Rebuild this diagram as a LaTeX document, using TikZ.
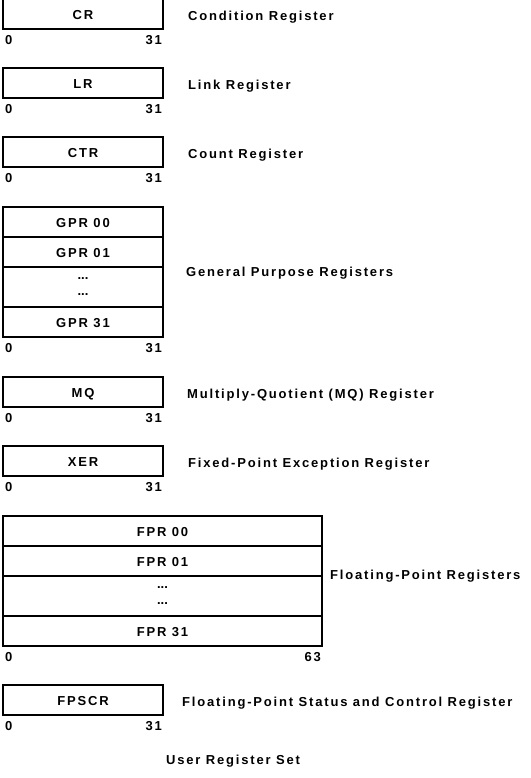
\documentclass[tikz,border=0pt]{standalone}
\usepackage{fontspec}
\setmainfont{Liberation Sans}[LetterSpace=14]
\usetikzlibrary{positioning}

\tikzset{
    reg/.style={draw, line width=1.4pt, minimum width=160pt, minimum height=30pt,
        inner sep=0pt, outer sep=0pt, anchor=north west, text height=11pt, text depth=0pt},
    regw/.style={reg, minimum width=319pt},
    dotsrow/.style={minimum height=40pt, align=center, text height=,
        font=\fontsize{13}{16}\selectfont\bfseries\addfontfeature{LetterSpace=0}},
    bits/.style={inner sep=0pt, text depth=0pt},
    desc/.style={inner sep=0pt, text depth=0pt, anchor=west}
}

\begin{document}
\begin{tikzpicture}[x=1pt, y=-1pt, font=\fontsize{13}{16}\selectfont\bfseries]
        \useasboundingbox (0,0) rectangle (530,778);
        % Registros de 32 bits
        \foreach \n/\t/\y/\dx/\d in {CR/CR/-1/188/Condition Register,
            LR/LR/68/188/Link Register,
            CTR/CTR/137/188/Count Register,
            MQ/MQ/377/187/Multiply-Quotient (MQ) Register,
            XER/XER/446/188/Fixed-Point Exception Register,
            FPSCR/FPSCR/685/182/Floating-Point Status and Control Register}{
            \node[reg] (\n) at (3,\y) {\t};
            \node[bits, anchor=north west, xshift=2pt, yshift=-6.5pt] (\n-lo) at (\n.south west) {0};
            \node[bits, anchor=north east, xshift=-1pt, yshift=-6.5pt] (\n-hi) at (\n.south east) {31};
            \node[desc] (\n-d) at (\dx,\y+17) {\d};
        }
        % GPR
        \node[reg] (GPR00) at (3,207) {GPR 00};
        \node[reg, below=0pt of GPR00] (GPR01) {GPR 01};
        \node[reg, dotsrow, below=0pt of GPR01] (GPRdots) {...\\...};
        \node[reg, below=0pt of GPRdots] (GPR31) {GPR 31};
        \node[bits, anchor=north west, xshift=2pt, yshift=-6.5pt] (GPR-lo) at (GPR31.south west) {0};
        \node[bits, anchor=north east, xshift=-1pt, yshift=-6.5pt] (GPR-hi) at (GPR31.south east) {31};
        \node[desc] (GPR-d) at (186,272) {General Purpose Registers};
        % FPR
        \node[regw] (FPR00) at (3,516) {FPR 00};
        \node[regw, below=0pt of FPR00] (FPR01) {FPR 01};
        \node[regw, dotsrow, below=0pt of FPR01] (FPRdots) {...\\...};
        \node[regw, below=0pt of FPRdots] (FPR31) {FPR 31};
        \node[bits, anchor=north west, xshift=2pt, yshift=-6.5pt] (FPR-lo) at (FPR31.south west) {0};
        \node[bits, anchor=north east, xshift=-1pt, yshift=-6.5pt] (FPR-hi) at (FPR31.south east) {63};
        \node[desc] (FPR-d) at (330,575) {Floating-Point Registers};
        % Titulo
        \node[bits] (title) at (233,760) {User Register Set};
    \end{tikzpicture}
\end{document}
